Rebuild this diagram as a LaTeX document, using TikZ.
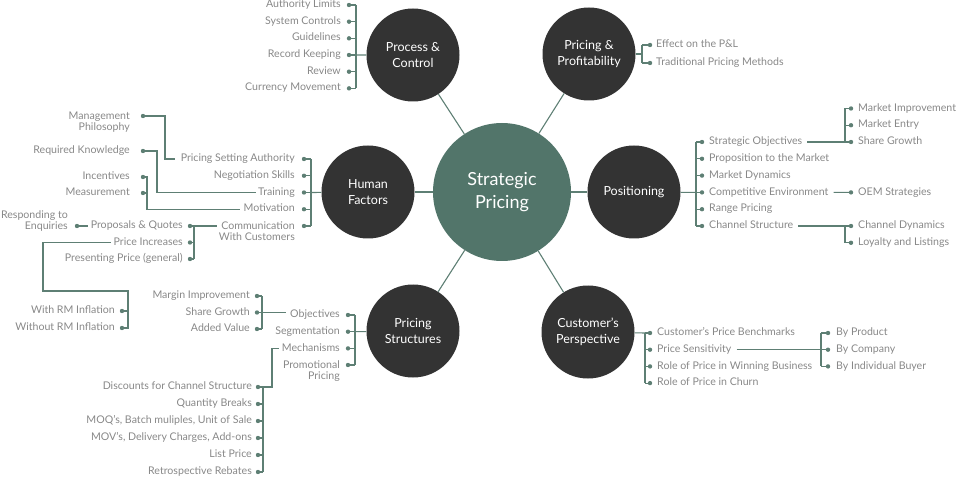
\documentclass[tikz,border=0pt]{standalone}
\usepackage{fontspec}
\setmainfont{Lato}
\usetikzlibrary{positioning,calc}

\definecolor{hubgray}{HTML}{333333}
\definecolor{coreteal}{HTML}{52756A}
\definecolor{linkteal}{HTML}{5E7F74}
\definecolor{itemgray}{HTML}{888888}

\begin{document}
\begin{tikzpicture}[
    x=1pt, y=-1pt,
    hub/.style={circle, fill=hubgray, text=white, minimum size=93pt, inner sep=0pt, align=center, font=\fontsize{12.5}{16}\selectfont},
    core/.style={circle, fill=coreteal, text=white, minimum size=138pt, inner sep=0pt, align=center, font=\fontsize{18}{23}\selectfont},
    item/.style={text=itemgray, inner sep=0pt, font=\fontsize{10.6}{11.5}\selectfont, text height=7.5pt, text depth=2.2pt},
    itemL/.style={item, anchor=east},
    itemR/.style={item, anchor=west},
    item2/.style={text=itemgray, inner sep=0pt, font=\fontsize{10.6}{11.2}\selectfont, align=right, anchor=north east},
    dot/.style={circle, fill=linkteal, inner sep=0pt, minimum size=4.4pt},
    link/.style={draw=linkteal, line width=1.1pt}
  ]
  \useasboundingbox (0,0) rectangle (958,478);

  % hubs
  \node[core] (sp) at (502,192) {Strategic\\Pricing};
  \node[hub] (pc) at (413,55) {Process \&\\Control};
  \node[hub] (pp) at (589,54) {Pricing \&\\Profitability};
  \node[hub] (hf) at (368,192) {Human\\Factors};
  \node[hub] (po) at (634,192) {Positioning};
  \node[hub] (ps) at (413,331) {Pricing\\Structures};
  \node[hub] (cp) at (588,332) {Customer’s\\Perspective};

  \foreach \n in {pc,pp,hf,po,ps,cp}
    \draw[link] (sp) -- (\n);

  % process & control
  \coordinate (pcx) at (356,0);
  \foreach \t [count=\i] in {Authority Limits, System Controls, Guidelines, Record Keeping, Review, Currency Movement} {
    \node[itemL] (pc\i) at (341,{5+16.67*(\i-1)}) {\t};
    \node[dot] (pcd\i) at (349,{5+16.67*(\i-1)}) {};
    \draw[link] (pcd\i.center) -- (pcd\i -| pcx);
  }
  \draw[link] (pcd1 -| pcx) -- (pcd6 -| pcx);
  \draw[link] (pcd4 -| pcx) -- (pc);

  % pricing & profitability
  \coordinate (ppx) at (642,0);
  \foreach \t/\yy [count=\i] in {Effect on the P\&L/45, Traditional Pricing Methods/63} {
    \node[itemR] (pp\i) at (656,\yy) {\t};
    \node[dot] (ppd\i) at (650,\yy) {};
    \draw[link] (ppd\i.center) -- (ppd\i -| ppx);
  }
  \draw[link] (ppd1 -| ppx) -- (ppd2 -| ppx);
  \draw[link] (pp) -- (pp -| ppx);

  % human factors
  \coordinate (hfx) at (311,0);
  \foreach \t [count=\i] in {Pricing Setting Authority, Negotiation Skills, Training, Motivation} {
    \node[itemL] (hf\i) at (295,{159+16.75*(\i-1)}) {\t};
    \node[dot] (hfd\i) at (304,{159+16.75*(\i-1)}) {};
    \draw[link] (hfd\i.center) -- (hfd\i -| hfx);
  }
  \node[item2] (hf5) at (295,221.5) {Communication\\With Customers};
  \node[dot] (hfd5) at (304,226) {};
  \draw[link] (hfd5.center) -- (hfd5 -| hfx);
  \draw[link] (hfd1 -| hfx) -- (hfd5 -| hfx);
  \draw[link] (hfd3 -| hfx) -- (hf);

  \node[item2] (mp) at (130,111.5) {Management\\Philosophy};
  \node[dot] (mpd) at (143,116) {};
  \draw[link] (mpd.center) -- ++(22,0) |- ([xshift=-6pt]hf1.west);

  \node[itemL] (rk) at (130,151) {Required Knowledge};
  \node[dot] (rkd) at (143,151) {};
  \draw[link] (rkd.center) -- ++(14,0) |- ([xshift=-2pt]hf3.west);

  \coordinate (inx) at (147,0);
  \node[itemL] (in) at (130,177) {Incentives};
  \node[dot] (ind) at (143,177) {};
  \node[itemL] (ms) at (130,193) {Measurement};
  \node[dot] (msd) at (143,193) {};
  \draw[link] (ind.center) -- (ind -| inx) |- ([xshift=-3pt]hf4.west);
  \draw[link] (msd.center) -- (msd -| inx);

  % communication with customers
  \coordinate (cmx) at (194,0);
  \foreach \t [count=\i] in {Proposals \& Quotes, Price Increases, Presenting Price (general)} {
    \node[itemL] (cm\i) at (183,{226+16.5*(\i-1)}) {\t};
    \node[dot] (cmd\i) at (190,{226+16.5*(\i-1)}) {};
    \draw[link] (cmd\i.center) -- (cmd\i -| cmx);
  }
  \draw[link] (cmd1 -| cmx) -- (cmd3 -| cmx);
  \draw[link] (cmd1 -| cmx) -- ($(hf5.west |- cmd1)+(-2,0)$);

  \node[item2] (re) at (68,210.5) {Responding to\\Enquiries};
  \node[dot] (red) at (77,226) {};
  \draw[link] (red.center) -- ([xshift=-3pt]cm1.west);

  \coordinate (rmx) at (128,0);
  \coordinate (rmbend) at (43,291);
  \node[itemL] (rm1) at (115,311) {With RM Inflation};
  \node[dot] (rmd1) at (122,311) {};
  \node[itemL] (rm2) at (115,328) {Without RM Inflation};
  \node[dot] (rmd2) at (122,328) {};
  \draw[link] ([xshift=-3pt]cm2.west) -| (rmbend) -| (rmd2 -| rmx) -- (rmd2.center);
  \draw[link] (rmd1.center) -- (rmd1 -| rmx);

  % pricing structures
  \coordinate (psx) at (355,0);
  \foreach \t [count=\i] in {Objectives, Segmentation, Mechanisms} {
    \node[itemL] (ps\i) at (340,{315+16.7*(\i-1)}) {\t};
    \node[dot] (psd\i) at (348,{315+16.7*(\i-1)}) {};
    \draw[link] (psd\i.center) -- (psd\i -| psx);
  }
  \node[item2] (ps4) at (340,360.5) {Promotional\\Pricing};
  \node[dot] (psd4) at (348,365) {};
  \draw[link] (psd4.center) -- (psd4 -| psx);
  \draw[link] (psd1 -| psx) -- (psd4 -| psx);
  \draw[link] (psd2 -| psx) -- (ps);

  \coordinate (obx) at (262,0);
  \foreach \t [count=\i] in {Margin Improvement, Share Growth, Added Value} {
    \node[itemL] (ob\i) at (250,{296+16.5*(\i-1)}) {\t};
    \node[dot] (obd\i) at (257,{296+16.5*(\i-1)}) {};
    \draw[link] (obd\i.center) -- (obd\i -| obx);
  }
  \draw[link] (obd1 -| obx) -- (obd3 -| obx);
  \draw[link] (obd2 -| obx) -- ($(obd2 -| ps1.west)+(-4,0)$);

  \coordinate (mcx) at (263,0);
  \foreach \t [count=\i] in {Discounts for Channel Structure, Quantity Breaks, {MOQ’s, Batch muliples, Unit of Sale}, {MOV’s, Delivery Charges, Add-ons}, List Price, Retrospective Rebates} {
    \node[itemL] (mc\i) at (252,{387+17*(\i-1)}) {\t};
    \node[dot] (mcd\i) at (258,{387+17*(\i-1)}) {};
    \draw[link] (mcd\i.center) -- (mcd\i -| mcx);
  }
  \draw[link] (mcd1 -| mcx) -- (mcd6 -| mcx);
  \draw[link] (mcd1 -| mcx) -- ++(9,0) |- ([xshift=-3pt]ps3.west);

  % positioning
  \coordinate (pox) at (696,0);
  \foreach \t [count=\i] in {Strategic Objectives, Proposition to the Market, Market Dynamics, Competitive Environment, Range Pricing, Channel Structure} {
    \node[itemR] (po\i) at (709,{142+16.8*(\i-1)}) {\t};
    \node[dot] (pod\i) at (702,{142+16.8*(\i-1)}) {};
    \draw[link] (pod\i.center) -- (pod\i -| pox);
  }
  \draw[link] (pod1 -| pox) -- (pod6 -| pox);
  \draw[link] (po) -- (pod4 -| pox);

  \coordinate (sox) at (845,0);
  \foreach \t [count=\i] in {Market Improvement, Market Entry, Share Growth} {
    \node[itemR] (so\i) at (858,{108.5+16.75*(\i-1)}) {\t};
    \node[dot] (sod\i) at (851,{108.5+16.75*(\i-1)}) {};
    \draw[link] (sod\i.center) -- (sod\i -| sox);
  }
  \draw[link] (sod1 -| sox) -- (sod3 -| sox);
  \draw[link] ([xshift=5pt]po1.east) -- (sod3 -| sox);

  \node[itemR] (oe) at (858,192.4) {OEM Strategies};
  \node[dot] (oed) at (851,192.4) {};
  \draw[link] ([xshift=5pt]po4.east) -- (oed.center);

  \coordinate (chx) at (845,0);
  \foreach \t [count=\i] in {Channel Dynamics, Loyalty and Listings} {
    \node[itemR] (ch\i) at (858,{226+16.8*(\i-1)}) {\t};
    \node[dot] (chd\i) at (851,{226+16.8*(\i-1)}) {};
    \draw[link] (chd\i.center) -- (chd\i -| chx);
  }
  \draw[link] (chd1 -| chx) -- (chd2 -| chx);
  \draw[link] ([xshift=5pt]po6.east) -- (chd1 -| chx);

  % customer's perspective
  \coordinate (cpx) at (645,0);
  \foreach \t [count=\i] in {Customer’s Price Benchmarks, Price Sensitivity, Role of Price in Winning Business, Role of Price in Churn} {
    \node[itemR] (cp\i) at (657,{333+16.7*(\i-1)}) {\t};
    \node[dot] (cpd\i) at (650,{333+16.7*(\i-1)}) {};
    \draw[link] (cpd\i.center) -- (cpd\i -| cpx);
  }
  \draw[link] (cpd1 -| cpx) -- (cpd4 -| cpx);
  \draw[link] (cp) -- (cpd1 -| cpx);

  \coordinate (bsx) at (821,0);
  \foreach \t [count=\i] in {By Product, By Company, By Individual Buyer} {
    \node[itemR] (bs\i) at (836,{333+16.7*(\i-1)}) {\t};
    \node[dot] (bsd\i) at (828,{333+16.7*(\i-1)}) {};
    \draw[link] (bsd\i.center) -- (bsd\i -| bsx);
  }
  \draw[link] (bsd1 -| bsx) -- (bsd3 -| bsx);
  \draw[link] ([xshift=5pt]cp2.east) -- (bsd2 -| bsx);
\end{tikzpicture}
\end{document}
